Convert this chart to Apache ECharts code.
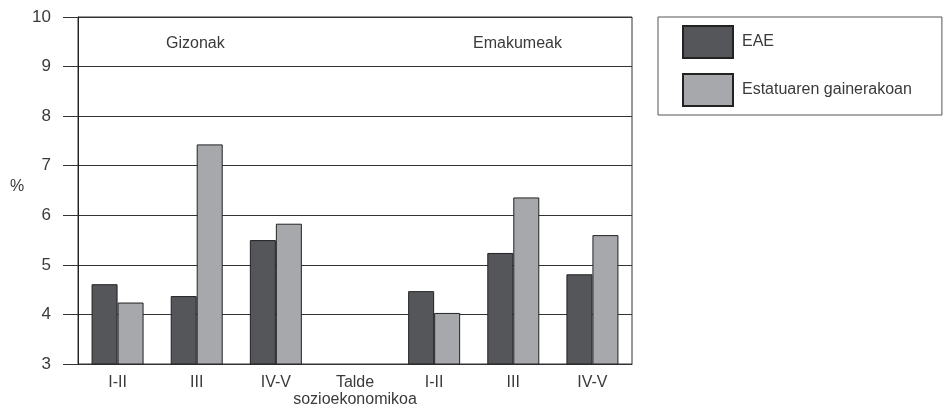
<!DOCTYPE html>
<html><head><meta charset="utf-8">
<script src="https://cdn.jsdelivr.net/npm/echarts@6/dist/echarts.min.js"></script>
<style>html,body{margin:0;padding:0;background:#fff}#c{width:945px;height:410px}</style>
</head><body><div id="c"></div>
<script>
const categories = ['I-II', 'III', 'IV-V', 'Talde\nsozioekonomikoa', 'I-II', 'III', 'IV-V'];
const eaeValues = [4.61, 4.37, 5.50, null, 4.47, 5.24, 4.81];
const restValues = [4.24, 7.43, 5.83, null, 4.03, 6.36, 5.60];
const seriesNames = ['EAE', 'Estatuaren gainerakoan'];
const groupLabels = ['Gizonak', 'Emakumeak'];
const yTicks = { min: 3, max: 10, interval: 1 };

const chart = echarts.init(document.getElementById('c'), null, { renderer: 'canvas' });
const font = 'Liberation Sans';
const txt = '#3a3a3a';
chart.setOption({
  animation: false,
  backgroundColor: '#fff',
  textStyle: { fontFamily: font },
  grid: { left: 78, top: 17, right: 313, bottom: 46, show: true, borderColor: '#333', borderWidth: 1 },
  legend: {
    orient: 'vertical', left: 658, top: 17,
    itemWidth: 50, itemHeight: 32, itemGap: 14,
    padding: [8, 30, 8, 24],
    borderColor: '#555', borderWidth: 1,
    icon: 'rect',
    textStyle: { fontSize: 16, color: txt, fontFamily: font, padding: [0, 0, 0, 4] },
    data: seriesNames
  },
  xAxis: {
    type: 'category', data: categories,
    axisLine: { lineStyle: { color: '#333' } },
    axisTick: { length: 8, lineStyle: { color: '#333' } },
    axisLabel: { color: txt, fontSize: 16, margin: 10, lineHeight: 17, interval: 0 }
  },
  yAxis: {
    type: 'value', min: yTicks.min, max: yTicks.max, interval: yTicks.interval,
    axisLine: { show: true, lineStyle: { color: '#222' } },
    axisTick: { show: true, length: 15, lineStyle: { color: '#333' } },
    axisLabel: { color: txt, fontSize: 17, margin: 27 },
    splitLine: { lineStyle: { color: '#333', width: 1 } }
  },
  graphic: [
    { type: 'text', left: 10, top: 179, style: { text: '%', fontSize: 16, fill: txt, fontFamily: font } },
    { type: 'text', left: 166, top: 36, style: { text: groupLabels[0], fontSize: 16, fill: txt, fontFamily: font } },
    { type: 'text', left: 473, top: 36, style: { text: groupLabels[1], fontSize: 16, fill: txt, fontFamily: font } }
  ],
  series: [
    { name: seriesNames[0], type: 'bar', data: eaeValues, barWidth: 26, barGap: '0%',
      itemStyle: { color: '#55565a', borderColor: '#222', borderWidth: 1 } },
    { name: seriesNames[1], type: 'bar', data: restValues, barWidth: 26, barGap: '0%',
      itemStyle: { color: '#a7a8ab', borderColor: '#222', borderWidth: 1 } }
  ]
});
</script></body></html>
